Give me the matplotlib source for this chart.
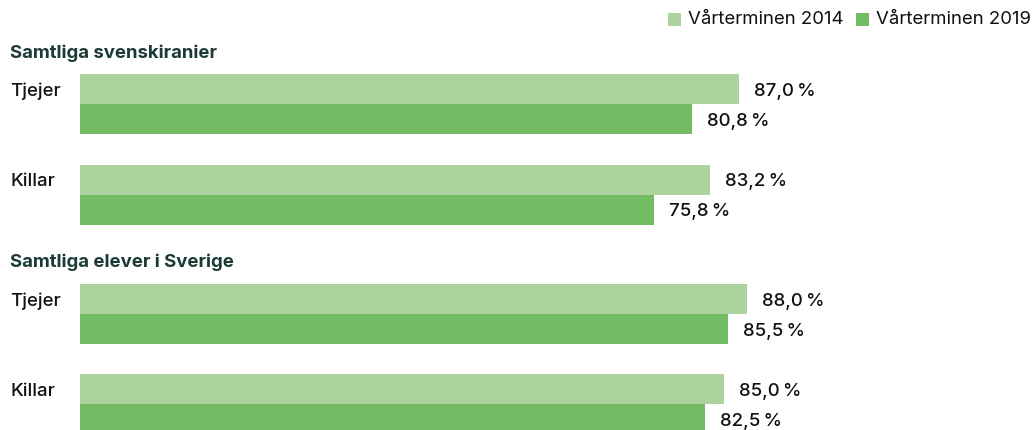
import matplotlib
matplotlib.use("Agg")
import matplotlib.pyplot as plt
from matplotlib.patches import Rectangle

plt.rcParams['font.family'] = ['Inter', 'DejaVu Sans']

groups = ["Samtliga svenskiranier", "Samtliga elever i Sverige"]
categories = ["Tjejer", "Killar"]
series_names = ["Vårterminen 2014", "Vårterminen 2019"]
values_2014 = [87.0, 83.2, 88.0, 85.0]
values_2019 = [80.8, 75.8, 85.5, 82.5]
colors = ["#acd39e", "#72bb63"]
title_color = "#1c3b36"

W, H = 1035, 430
fig = plt.figure(figsize=(W / 100, H / 100), dpi=100)
ax = fig.add_axes([0, 0, 1, 1])
px_per_unit = (739 - 80) / 87.0
x0 = 80
ax.set_xlim(-x0 / px_per_unit, (W - x0) / px_per_unit)
ax.set_ylim(H, 0)
ax.axis("off")

bar_h = 30
group_title_y = [53, 262]
cat_top = [[74, 165], [284, 374]]
fs = 13.4
wt = 500

def fmt(v):
    return f"{v:.1f}".replace(".", ",") + "\u2009%"

idx = 0
for g, gname in enumerate(groups):
    ax.text(-x0 / px_per_unit + 10 / px_per_unit, group_title_y[g], gname,
            fontsize=fs, fontweight="bold", color=title_color, va="center", ha="left")
    for c, cname in enumerate(categories):
        top = cat_top[g][c]
        ys = [top + bar_h / 2, top + bar_h * 1.5]
        vals = [values_2014[idx], values_2019[idx]]
        ax.barh(ys, vals, height=bar_h, color=colors, left=0, linewidth=0)
        for y, v in zip(ys, vals):
            ax.text(v + 15 / px_per_unit, y + 2, fmt(v), fontsize=fs, color="#111111",
                    fontweight=wt, va="center", ha="left")
        ax.text(-x0 / px_per_unit + 10 / px_per_unit, ys[0] + 2, cname, fontsize=fs,
                color="#111111", fontweight=wt, va="center", ha="left")
        idx += 1

# legend
leg_items = [(668, series_names[0], colors[0]), (856, series_names[1], colors[1])]
for lx, name, col in leg_items:
    fig.patches.append(Rectangle((lx / W, 1 - 26 / H), 13 / W, 13 / H,
                                 transform=fig.transFigure, color=col, linewidth=0))
    fig.text((lx + 20) / W, 1 - 20 / H, name, fontsize=fs, color="#111111",
             va="center", ha="left")

fig.savefig("out.png", dpi=100)
